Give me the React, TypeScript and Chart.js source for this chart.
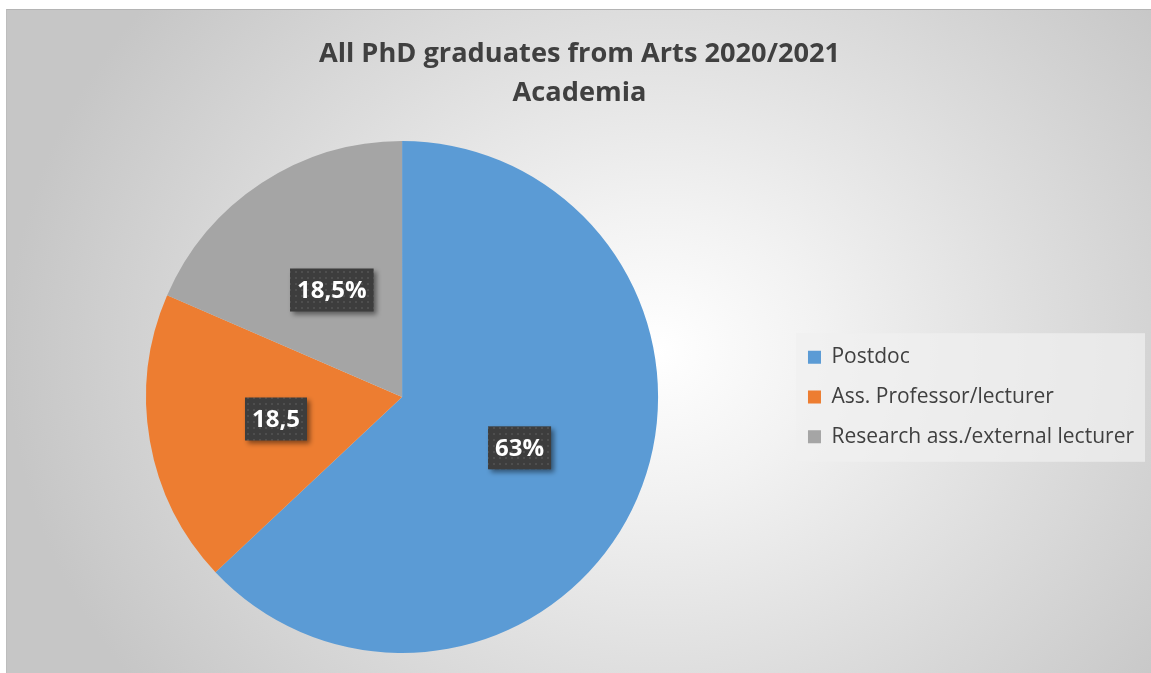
import React, { useEffect, useRef } from "react";
import { Chart, registerables } from "chart.js";

Chart.register(...registerables);

const categories = ["Postdoc", "Ass. Professor/lecturer", "Research ass./external lecturer"];
const values = [63, 18.5, 18.5];
const valueLabels = ["63%", "18,5", "18,5%"];
const colors = ["#5B9BD5", "#ED7D31", "#A5A5A5"];
const titleLines = ["All PhD graduates from Arts 2020/2021", "Academia"];

const FONT = "'Open Sans', Lato, sans-serif";

function makePattern(ctx: CanvasRenderingContext2D) {
  const c = document.createElement("canvas");
  c.width = 6;
  c.height = 6;
  const g = c.getContext("2d")!;
  g.fillStyle = "#3d3d3d";
  g.fillRect(0, 0, 6, 6);
  g.fillStyle = "#4e4e4e";
  g.fillRect(1, 1, 2, 2);
  return ctx.createPattern(c, "repeat") || "#404040";
}

const legendBgPlugin = {
  id: "legendBg",
  beforeDraw(chart: any) {
    const lg = chart.legend;
    if (!lg || !lg.legendHitBoxes || !lg.legendHitBoxes.length) return;
    const hb = lg.legendHitBoxes;
    const first = hb[0];
    const last = hb[hb.length - 1];
    let maxRight = 0;
    hb.forEach((h: any) => (maxRight = Math.max(maxRight, h.left + h.width)));
    const left = first.left - 12;
    const right = maxRight + 11;
    const top = first.top + first.height / 2 - 24;
    const bottom = last.top + last.height / 2 + 25;
    const ctx = chart.ctx;
    ctx.save();
    ctx.fillStyle = "rgba(240,240,240,0.72)";
    ctx.fillRect(left, top, right - left, bottom - top);
    ctx.restore();
  },
};

const valueLabelPlugin = {
  id: "valueLabelBoxes",
  afterDatasetsDraw(chart: any) {
    const ctx: CanvasRenderingContext2D = chart.ctx;
    const meta = chart.getDatasetMeta(0);
    const pattern = makePattern(ctx);
    ctx.save();
    ctx.font = `bold 24px ${FONT}`;
    meta.data.forEach((arc: any, i: number) => {
      const p = arc.getCenterPoint();
      const text = valueLabels[i];
      const tw = ctx.measureText(text).width;
      const w = tw + 14;
      const h = 43;
      const x = p.x - w / 2;
      const y = p.y - h / 2;
      ctx.save();
      ctx.shadowColor = "rgba(0,0,0,0.45)";
      ctx.shadowBlur = 5;
      ctx.shadowOffsetX = 3;
      ctx.shadowOffsetY = 3;
      ctx.fillStyle = pattern as any;
      ctx.fillRect(x, y, w, h);
      ctx.restore();
      ctx.fillStyle = "#ffffff";
      ctx.textAlign = "center";
      ctx.textBaseline = "middle";
      ctx.fillText(text, p.x, p.y + 1);
    });
    ctx.restore();
  },
};

export default function App() {
  const ref = useRef<HTMLCanvasElement>(null);

  useEffect(() => {
    document.documentElement.style.background = "#c8c8c8";
    document.body.style.background = "#c8c8c8";
    if (!ref.current) return;
    const chart = new Chart(ref.current, {
      type: "pie",
      data: {
        labels: categories,
        datasets: [
          {
            data: values,
            backgroundColor: colors,
            borderWidth: 0,
          },
        ],
      },
      options: {
        responsive: false,
        animation: false,
        devicePixelRatio: 1,
        layout: { padding: { top: 10, left: 15, right: 7, bottom: 20 } },
        plugins: {
          tooltip: { enabled: false },
          title: {
            display: true,
            text: titleLines,
            color: "#404040",
            font: { family: FONT, size: 27.2, weight: "bold", lineHeight: "39px" },
            padding: { top: 24.5, bottom: 28.5 },
          },
          legend: {
            display: true,
            position: "right",
            fullSize: false,
            labels: {
              color: "#404040",
              font: { family: FONT, size: 21 },
              boxWidth: 13,
              boxHeight: 13,
              padding: 18.8,
            },
          },
        },
      },
      plugins: [legendBgPlugin, valueLabelPlugin],
    });
    return () => chart.destroy();
  }, []);

  return (
    <div style={{ position: "fixed", left: 0, top: 0, width: 1200, height: 720, background: "#ffffff", overflow: "hidden" }}>
      <div
        style={{
          position: "absolute",
          left: 6,
          top: 9,
          width: 1190,
          height: 700,
          borderTop: "1px solid #b4b4b4",
          borderLeft: "1px solid #bdbdbd",
          background: "radial-gradient(ellipse 650px 560px at 650px 340px, #ffffff 0%, #f2f2f2 25%, #dcdcdc 62%, #c6c6c6 100%)",
        }}
      />
      <canvas ref={ref} width={1151} height={673} style={{ position: "absolute", left: 0, top: 0 }} />
    </div>
  );
}
